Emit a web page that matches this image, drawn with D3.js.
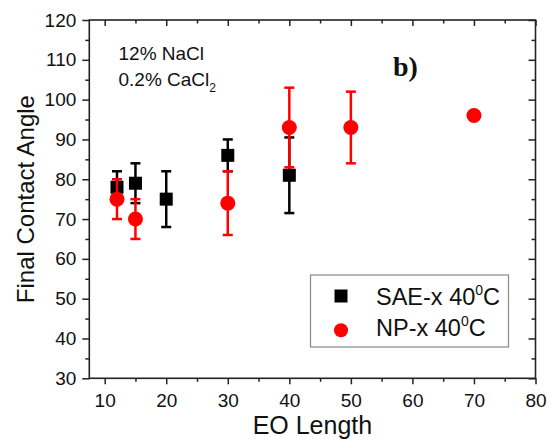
<!DOCTYPE html>
<html>
<head>
<meta charset="utf-8">
<script src="https://cdn.jsdelivr.net/npm/d3@7"></script>
<style>
  html, body { margin: 0; padding: 0; background: #fff; }
  svg { display: block; }
  text { font-family: "Liberation Sans", Arial, sans-serif; fill: #111; }
</style>
</head>
<body>
<svg id="chart" width="550" height="443"></svg>
<script>
// SAE-x series (black squares)
const saeEO    = [12, 15, 20, 30, 40];
const saeAngle = [78, 79, 75, 86, 81];
const saeLow   = [74, 74, 68, 82, 71.5];
const saeHigh  = [82, 84, 82, 90, 90.5];

// NP-x series (red circles)
const npEO    = [12, 15, 30, 40, 50, 70];
const npAngle = [75, 70, 74, 93, 93, 96];
const npLow   = [70, 65, 66, 83, 84, 96];
const npHigh  = [80, 75, 82, 103, 102, 96];

const xTicks = [10, 20, 30, 40, 50, 60, 70, 80];
const yTicks = [30, 40, 50, 60, 70, 80, 90, 100, 110, 120];
const legendLabels = ["SAE-x 40", "NP-x 40"];

const svg = d3.select("#chart");
const m = { left: 89.3, right: 535.5, top: 20, bottom: 378.3 };

const x = d3.scaleLinear().domain([7.5, 80]).range([m.left, m.right]);
const y = d3.scaleLinear().domain([30, 120]).range([m.bottom, m.top]);

const xMinor = d3.range(15, 80, 10);
const yMinor = d3.range(35, 120, 10);
const axisColor = "#222";

function styleAxis(g) {
  g.select(".domain").remove();
  g.selectAll("line").attr("stroke", axisColor).attr("stroke-width", 1.5);
  g.selectAll("text").attr("font-size", 19).attr("fill", "#111")
    .style("font-family", "'Liberation Sans', Arial, sans-serif");
}

// bottom axis: outward ticks with labels
svg.append("g").attr("transform", `translate(0,${m.bottom})`)
  .call(d3.axisBottom(x).tickValues(xTicks).tickSize(6).tickPadding(9).tickFormat(d3.format("d")))
  .call(styleAxis);
svg.append("g").attr("transform", `translate(0,${m.bottom})`)
  .call(d3.axisBottom(x).tickValues(xMinor).tickSize(3.5).tickFormat(""))
  .call(styleAxis);

// left axis
svg.append("g").attr("transform", `translate(${m.left},0)`)
  .call(d3.axisLeft(y).tickValues(yTicks).tickSize(7).tickPadding(6).tickFormat(d3.format("d")))
  .call(styleAxis);
svg.append("g").attr("transform", `translate(${m.left},0)`)
  .call(d3.axisLeft(y).tickValues(yMinor).tickSize(4).tickFormat(""))
  .call(styleAxis);

// top axis: inward ticks
svg.append("g").attr("transform", `translate(0,${m.top})`)
  .call(d3.axisTop(x).tickValues(xTicks).tickSize(-6).tickFormat(""))
  .call(styleAxis);
svg.append("g").attr("transform", `translate(0,${m.top})`)
  .call(d3.axisTop(x).tickValues(xMinor).tickSize(-3.5).tickFormat(""))
  .call(styleAxis);

// right axis: inward ticks
svg.append("g").attr("transform", `translate(${m.right},0)`)
  .call(d3.axisRight(y).tickValues(yTicks).tickSize(-7).tickFormat(""))
  .call(styleAxis);
svg.append("g").attr("transform", `translate(${m.right},0)`)
  .call(d3.axisRight(y).tickValues(yMinor).tickSize(-4).tickFormat(""))
  .call(styleAxis);

// frame
svg.append("rect")
  .attr("x", m.left).attr("y", m.top)
  .attr("width", m.right - m.left).attr("height", m.bottom - m.top)
  .attr("fill", "none").attr("stroke", axisColor).attr("stroke-width", 1.6);

// axis titles
svg.append("text")
  .attr("x", (m.left + m.right) / 2).attr("y", 434)
  .attr("text-anchor", "middle").attr("font-size", 25)
  .text("EO Length");
svg.append("text")
  .attr("transform", `translate(34,${(m.top + m.bottom) / 2}) rotate(-90)`)
  .attr("text-anchor", "middle").attr("font-size", 24)
  .text("Final Contact Angle");

// error bars
function errorBars(xs, lo, hi, color) {
  const g = svg.append("g").attr("stroke", color).attr("stroke-width", 2.5).attr("fill", "none");
  xs.forEach((xv, i) => {
    if (lo[i] === hi[i]) return;
    const cx = x(xv);
    g.append("line").attr("x1", cx).attr("x2", cx).attr("y1", y(lo[i])).attr("y2", y(hi[i]));
    [lo[i], hi[i]].forEach(v => {
      g.append("line").attr("x1", cx - 5).attr("x2", cx + 5).attr("y1", y(v)).attr("y2", y(v));
    });
  });
}

// SAE-x
errorBars(saeEO, saeLow, saeHigh, "#000");
svg.append("g").selectAll("rect").data(saeEO).join("rect")
  .attr("x", (d) => x(d) - 6.5).attr("y", (d, i) => y(saeAngle[i]) - 6.5)
  .attr("width", 13).attr("height", 13).attr("fill", "#000");

// NP-x
errorBars(npEO, npLow, npHigh, "#ff0000");
svg.append("g").selectAll("circle").data(npEO).join("circle")
  .attr("cx", (d) => x(d)).attr("cy", (d, i) => y(npAngle[i]))
  .attr("r", 7.5).attr("fill", "#ff0000");

// brine annotation
svg.append("text").attr("x", 118.5).attr("y", 59.5).attr("font-size", 19).text("12% NaCl");
const t2 = svg.append("text").attr("x", 118.5).attr("y", 86).attr("font-size", 19);
t2.append("tspan").text("0.2% CaCl");
t2.append("tspan").attr("font-size", 12).attr("dy", 6).text("2");

// panel label
svg.append("text").attr("x", 393).attr("y", 76)
  .attr("font-size", 28).attr("font-weight", "bold")
  .style("font-family", "'Liberation Serif', 'Times New Roman', serif")
  .text("b)");

// legend
const lg = svg.append("g");
lg.append("rect").attr("x", 310.5).attr("y", 275).attr("width", 198).attr("height", 72)
  .attr("fill", "#fff").attr("stroke", "#888").attr("stroke-width", 1.2);
lg.append("rect").attr("x", 334.5).attr("y", 289.5).attr("width", 13).attr("height", 13).attr("fill", "#000");
lg.append("circle").attr("cx", 341).attr("cy", 330.3).attr("r", 7).attr("fill", "#ff0000");
legendLabels.forEach((lab, i) => {
  const t = lg.append("text").attr("x", 376).attr("y", 304.5 + i * 31.5).attr("font-size", 23.5);
  t.append("tspan").text(lab);
  t.append("tspan").attr("font-size", 14).attr("dy", -10).text("0");
  t.append("tspan").attr("dy", 10).text("C");
});
</script>
</body>
</html>
